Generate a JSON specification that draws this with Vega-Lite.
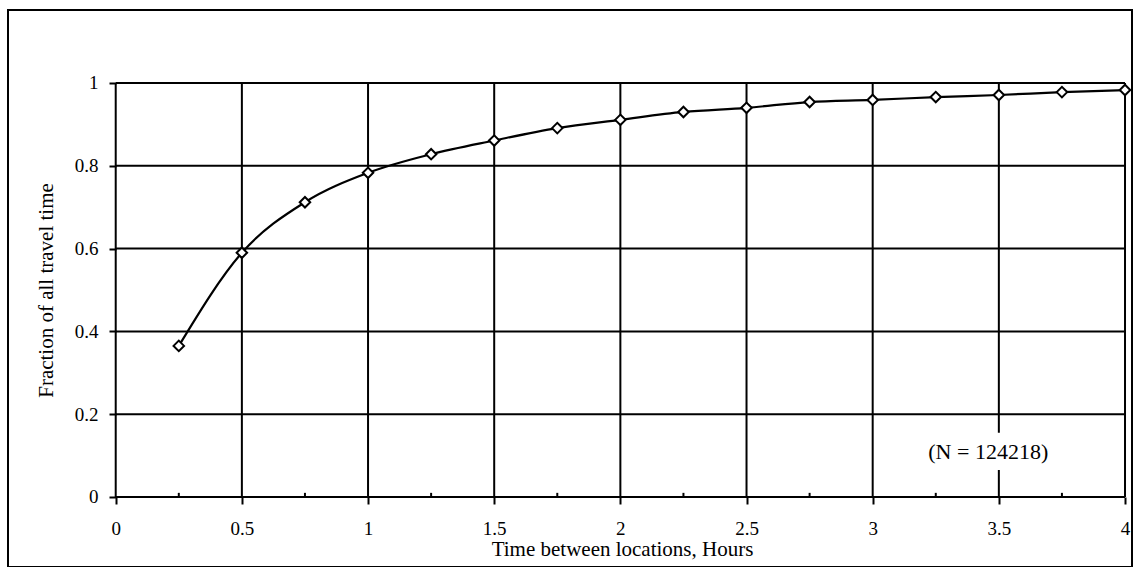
{
  "$schema": "https://vega.github.io/schema/vega-lite/v6.json",
  "width": 1135,
  "height": 567,
  "autosize": {"type": "fit", "contains": "padding"},
  "padding": {"left": 8, "top": 10, "right": 0, "bottom": 0},
  "background": "white",
  "config": {
    "view": {"stroke": "black", "strokeWidth": 2, "fill": "white"},
    "font": "Liberation Serif",
    "axis": {
      "domain": false,
      "grid": false,
      "ticks": true,
      "tickSize": 7,
      "tickWidth": 2,
      "tickColor": "black",
      "labelFont": "Liberation Serif",
      "labelFontSize": 19,
      "labelColor": "black",
      "labelFlush": false,
      "labelOverlap": false,
      "titleFont": "Liberation Serif",
      "titleFontSize": 21,
      "titleFontWeight": "normal",
      "titleColor": "black",
      "titleBaseline": "alphabetic",
      "titleAlign": "center"
    },
    "axisX": {"offset": -70, "labelPadding": 15, "titleX": 614, "titleY": 58},
    "axisY": {"offset": -108, "labelPadding": 11, "titleX": -64, "titleY": 280}
  },
  "datasets": {
    "curve": [
      {"hours": 0.25, "fraction": 0.365},
      {"hours": 0.5, "fraction": 0.59},
      {"hours": 0.75, "fraction": 0.712},
      {"hours": 1.0, "fraction": 0.783},
      {"hours": 1.25, "fraction": 0.828},
      {"hours": 1.5, "fraction": 0.861},
      {"hours": 1.75, "fraction": 0.891},
      {"hours": 2.0, "fraction": 0.911},
      {"hours": 2.25, "fraction": 0.93},
      {"hours": 2.5, "fraction": 0.94},
      {"hours": 2.75, "fraction": 0.954},
      {"hours": 3.0, "fraction": 0.959},
      {"hours": 3.25, "fraction": 0.966},
      {"hours": 3.5, "fraction": 0.971},
      {"hours": 3.75, "fraction": 0.978},
      {"hours": 4.0, "fraction": 0.983}
    ],
    "vgrid": [
      {"hours": 0}, {"hours": 0.5}, {"hours": 1}, {"hours": 1.5}, {"hours": 2},
      {"hours": 2.5}, {"hours": 3}, {"hours": 3.5}, {"hours": 4}
    ],
    "hgrid": [
      {"fraction": 0}, {"fraction": 0.2}, {"fraction": 0.4}, {"fraction": 0.6},
      {"fraction": 0.8}, {"fraction": 1}
    ],
    "minor": [
      {"hours": 0.25}, {"hours": 0.75}, {"hours": 1.25}, {"hours": 1.75},
      {"hours": 2.25}, {"hours": 2.75}, {"hours": 3.25}, {"hours": 3.75}
    ],
    "note": [
      {"hours": 3.458, "fraction": 0.109, "label": "(N = 124218)"}
    ]
  },
  "layer": [
    {
      "data": {"name": "vgrid"},
      "mark": {"type": "rule", "color": "black", "strokeWidth": 2},
      "encoding": {
        "x": {"field": "hours", "type": "quantitative", "title": "Time between locations, Hours", "scale": {"domain": [-0.4269, 4.0277], "nice": false, "zero": false}, "axis": {"values": [0, 0.5, 1, 1.5, 2, 2.5, 3, 3.5, 4], "format": "~g"}},
        "y": {"datum": 0, "type": "quantitative", "title": "Fraction of all travel time", "scale": {"domain": [-0.1691, 1.1763], "nice": false, "zero": false}, "axis": {"values": [0, 0.2, 0.4, 0.6, 0.8, 1], "format": "~g"}},
        "y2": {"datum": 1}
      }
    },
    {
      "data": {"name": "hgrid"},
      "mark": {"type": "rule", "color": "black", "strokeWidth": 2},
      "encoding": {
        "y": {"field": "fraction", "type": "quantitative", "title": "Fraction of all travel time", "scale": {"domain": [-0.1691, 1.1763], "nice": false, "zero": false}, "axis": {"values": [0, 0.2, 0.4, 0.6, 0.8, 1], "format": "~g"}},
        "x": {"datum": 0, "type": "quantitative", "title": "Time between locations, Hours", "scale": {"domain": [-0.4269, 4.0277], "nice": false, "zero": false}, "axis": {"values": [0, 0.5, 1, 1.5, 2, 2.5, 3, 3.5, 4], "format": "~g"}},
        "x2": {"datum": 4}
      }
    },
    {
      "data": {"name": "minor"},
      "mark": {"type": "rule", "color": "black", "strokeWidth": 2},
      "encoding": {
        "x": {"field": "hours", "type": "quantitative", "title": "Time between locations, Hours", "scale": {"domain": [-0.4269, 4.0277], "nice": false, "zero": false}, "axis": {"values": [0, 0.5, 1, 1.5, 2, 2.5, 3, 3.5, 4], "format": "~g"}},
        "y": {"datum": 0, "type": "quantitative", "title": "Fraction of all travel time", "scale": {"domain": [-0.1691, 1.1763], "nice": false, "zero": false}, "axis": {"values": [0, 0.2, 0.4, 0.6, 0.8, 1], "format": "~g"}},
        "y2": {"datum": 0.01}
      }
    },
    {
      "data": {"name": "note"},
      "mark": {"type": "rect", "fill": "white", "stroke": null},
      "encoding": {
        "x": {"datum": 3.24, "type": "quantitative", "title": "Time between locations, Hours", "scale": {"domain": [-0.4269, 4.0277], "nice": false, "zero": false}, "axis": {"values": [0, 0.5, 1, 1.5, 2, 2.5, 3, 3.5, 4], "format": "~g"}},
        "x2": {"datum": 3.72},
        "y": {"datum": 0.065, "type": "quantitative", "title": "Fraction of all travel time", "scale": {"domain": [-0.1691, 1.1763], "nice": false, "zero": false}, "axis": {"values": [0, 0.2, 0.4, 0.6, 0.8, 1], "format": "~g"}},
        "y2": {"datum": 0.155}
      }
    },
    {
      "data": {"name": "note"},
      "mark": {"type": "text", "font": "Liberation Serif", "fontSize": 22, "color": "black", "align": "center", "baseline": "middle"},
      "encoding": {
        "x": {"field": "hours", "type": "quantitative", "title": "Time between locations, Hours", "scale": {"domain": [-0.4269, 4.0277], "nice": false, "zero": false}, "axis": {"values": [0, 0.5, 1, 1.5, 2, 2.5, 3, 3.5, 4], "format": "~g"}},
        "y": {"field": "fraction", "type": "quantitative", "title": "Fraction of all travel time", "scale": {"domain": [-0.1691, 1.1763], "nice": false, "zero": false}, "axis": {"values": [0, 0.2, 0.4, 0.6, 0.8, 1], "format": "~g"}},
        "text": {"field": "label"}
      }
    },
    {
      "data": {"name": "curve"},
      "mark": {"type": "line", "color": "black", "strokeWidth": 2.2, "interpolate": "monotone"},
      "encoding": {
        "x": {"field": "hours", "type": "quantitative", "title": "Time between locations, Hours", "scale": {"domain": [-0.4269, 4.0277], "nice": false, "zero": false}, "axis": {"values": [0, 0.5, 1, 1.5, 2, 2.5, 3, 3.5, 4], "format": "~g"}},
        "y": {"field": "fraction", "type": "quantitative", "title": "Fraction of all travel time", "scale": {"domain": [-0.1691, 1.1763], "nice": false, "zero": false}, "axis": {"values": [0, 0.2, 0.4, 0.6, 0.8, 1], "format": "~g"}}
      }
    },
    {
      "data": {"name": "curve"},
      "mark": {"type": "point", "shape": "diamond", "size": 110, "filled": true, "fill": "white", "stroke": "black", "strokeWidth": 2, "opacity": 1},
      "encoding": {
        "x": {"field": "hours", "type": "quantitative", "title": "Time between locations, Hours", "scale": {"domain": [-0.4269, 4.0277], "nice": false, "zero": false}, "axis": {"values": [0, 0.5, 1, 1.5, 2, 2.5, 3, 3.5, 4], "format": "~g"}},
        "y": {"field": "fraction", "type": "quantitative", "title": "Fraction of all travel time", "scale": {"domain": [-0.1691, 1.1763], "nice": false, "zero": false}, "axis": {"values": [0, 0.2, 0.4, 0.6, 0.8, 1], "format": "~g"}}
      }
    }
  ]
}
